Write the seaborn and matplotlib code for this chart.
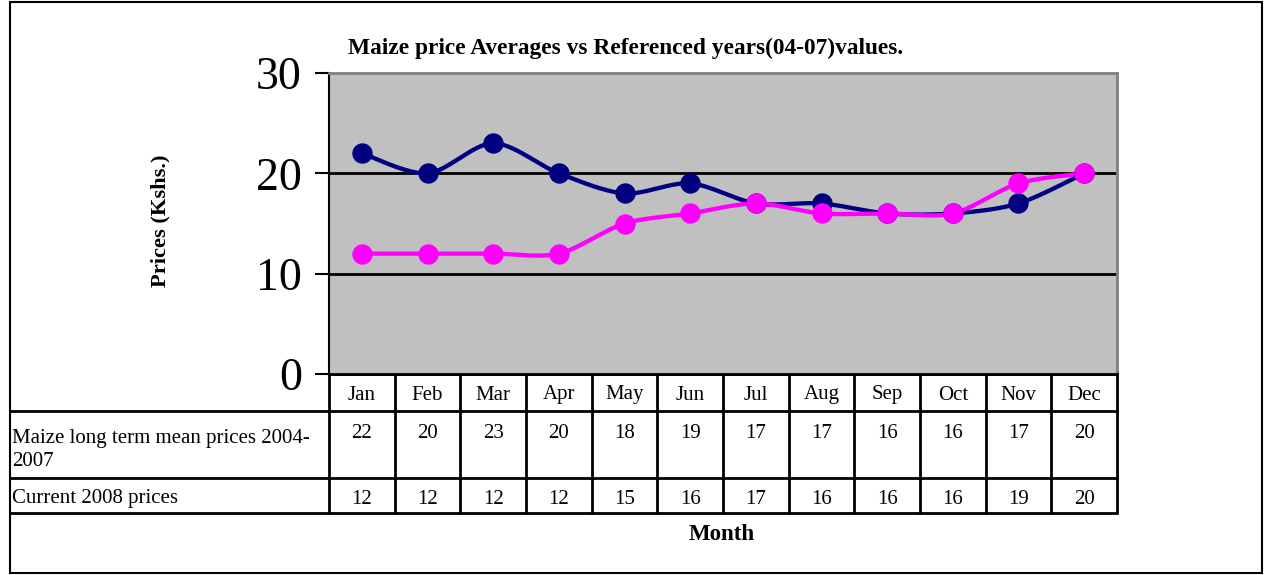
import numpy as np
import pandas as pd
import matplotlib
matplotlib.use("Agg")
import matplotlib.pyplot as plt
import seaborn as sns
from matplotlib.patches import Rectangle

months = ["Jan", "Feb", "Mar", "Apr", "May", "Jun", "Jul", "Aug", "Sep", "Oct", "Nov", "Dec"]
long_term = [22, 20, 23, 20, 18, 19, 17, 17, 16, 16, 17, 20]
current_2008 = [12, 12, 12, 12, 15, 16, 17, 16, 16, 16, 19, 20]
series_names = ["Maize long term mean prices 2004-\n2007", "Current 2008 prices"]
series_colors = ["#000080", "#FF00FF"]
yticks = [0, 10, 20, 30]
title = "Maize price Averages vs Referenced years(04-07)values."
xlabel = "Month"
ylabel = "Prices (Kshs.)"

sns.set_style("white")
plt.rcParams["font.family"] = ["Liberation Serif", "DejaVu Serif"]
plt.rcParams["text.color"] = "black"
plt.rcParams["ytick.color"] = "black"
plt.rcParams["ytick.labelcolor"] = "black"

W, H = 1267, 575
fig = plt.figure(figsize=(W / 100, H / 100), dpi=100)

# full-figure pixel overlay for frame and table
ov = fig.add_axes([0, 0, 1, 1])
ov.set_xlim(0, W)
ov.set_ylim(H, 0)
ov.axis("off")

L, R, T, B = 329, 1117, 73, 374
ax = fig.add_axes([L / W, 1 - B / H, (R - L) / W, (B - T) / H])
ax.set_facecolor("#C0C0C0")


def smooth(xs, ys, n=30):
    # Catmull-Rom style smoothing of the drawn line (Excel "smoothed line")
    xs = np.asarray(xs, float)
    ys = np.asarray(ys, float)
    px = np.concatenate([[xs[0]], xs, [xs[-1]]])
    py = np.concatenate([[ys[0]], ys, [ys[-1]]])
    ox, oy = [], []
    t = np.linspace(0, 1, n, endpoint=False)
    for i in range(1, len(px) - 2):
        for arr, out in ((px, ox), (py, oy)):
            p0, p1, p2, p3 = arr[i - 1], arr[i], arr[i + 1], arr[i + 2]
            m1 = (p2 - p0) / 2 * 0.9
            m2 = (p3 - p1) / 2 * 0.9
            h00 = 2 * t**3 - 3 * t**2 + 1
            h10 = t**3 - 2 * t**2 + t
            h01 = -2 * t**3 + 3 * t**2
            h11 = t**3 - t**2
            out.extend(h00 * p1 + h10 * m1 + h01 * p2 + h11 * m2)
    ox.append(xs[-1])
    oy.append(ys[-1])
    return np.array(ox), np.array(oy)


xpos = np.arange(len(months))
for vals, col in zip([long_term, current_2008], series_colors):
    sx, sy = smooth(xpos, vals)
    sns.lineplot(x=sx, y=sy, ax=ax, color=col, lw=3.1, sort=False,
                 estimator=None, zorder=3)
for vals, col in zip([long_term, current_2008], series_colors):
    df = pd.DataFrame({"x": xpos, "y": vals})
    sns.scatterplot(data=df, x="x", y="y", ax=ax, color=col, s=215,
                    edgecolor=col, linewidth=0, zorder=4)

ax.set_xlim(-0.5, len(months) - 0.5)
ax.set_ylim(0, 30)
ax.set_yticks(yticks)
ax.set_yticklabels([str(v) for v in yticks], fontsize=33)
ax.set_xticks([])
ax.set_xlabel("")
ax.set_ylabel("")
for v in yticks[1:-1]:
    ax.axhline(v, color="black", lw=2, zorder=1)
ax.tick_params(axis="y", direction="out", length=10, width=1.5, pad=9.5, left=True,
               colors="black")
ax.spines["left"].set_color("black")
ax.spines["left"].set_linewidth(1.5)
ax.spines["top"].set_color("#808080")
ax.spines["right"].set_color("#808080")
ax.spines["top"].set_linewidth(2)
ax.spines["right"].set_linewidth(2)
ax.spines["bottom"].set_color("black")
ax.spines["bottom"].set_linewidth(2)

# outer border
ov.add_patch(Rectangle((10, 2), 1252, 571, fill=False, ec="black", lw=1.5))

# title and labels
ov.text(626, 48, title, ha="center", va="center", fontsize=16.8, fontweight="bold")
ov.text(722, 535, xlabel, ha="center", va="center", fontsize=16.5, fontweight="bold")
ov.text(160, 221, ylabel, ha="center", va="center", fontsize=16.2, fontweight="bold",
        rotation=90)

# data table
cw = (R - L) / len(months)
rows_y = [374, 411, 478, 513]
lw = 2
ov.plot([L, R], [rows_y[0], rows_y[0]], color="black", lw=lw)
for y in rows_y[1:]:
    ov.plot([10, R], [y, y], color="black", lw=lw)
for i in range(len(months) + 1):
    x = L + i * cw
    ov.plot([x, x], [rows_y[0], rows_y[-1]], color="black", lw=lw)
fs = 15
for i, m in enumerate(months):
    cx = L + (i + 0.5) * cw
    ov.text(cx, 395, m, ha="center", va="center", fontsize=fs)
    ov.text(cx, 434, str(long_term[i]), ha="center", va="center", fontsize=fs)
    ov.text(cx, 499, str(current_2008[i]), ha="center", va="center", fontsize=fs)
ov.text(12, 450, series_names[0], ha="left", va="center", fontsize=fs,
        linespacing=1.3)
ov.text(12, 499, series_names[1], ha="left", va="center", fontsize=fs)

fig.savefig("out.png", dpi=100)
